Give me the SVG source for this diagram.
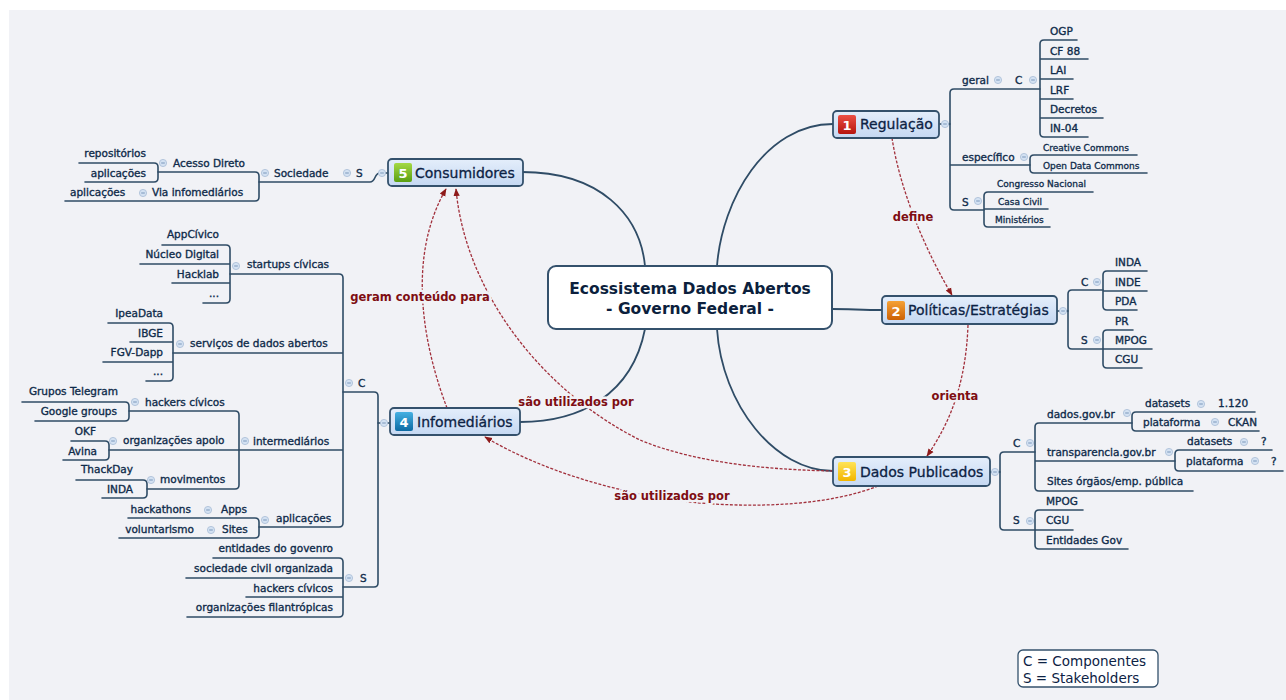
<svg xmlns="http://www.w3.org/2000/svg" width="1286" height="700" viewBox="0 0 1286 700">
<defs>
<style>
.t{font-family:"DejaVu Sans",Verdana,sans-serif;font-size:10.5px;fill:#0f2b4a;stroke:#0f2b4a;stroke-width:0.35}
.s{font-size:9px;stroke-width:0.3}
.e{text-anchor:end}
.ln{fill:none;stroke:#2f4c66;stroke-width:1.6;stroke-linecap:round}
.cx{fill:none;stroke:#2f4c66;stroke-width:1.8}
.rel{fill:none;stroke:#a2303c;stroke-width:1.3;stroke-dasharray:3 1.6}
.rl{font-family:"DejaVu Sans",sans-serif;font-size:11.5px;font-weight:bold;fill:#7e0d12;text-anchor:middle;stroke:#f1f2f6;stroke-width:5;paint-order:stroke;stroke-linejoin:round}
.nd{fill:url(#ng);stroke:#34516c;stroke-width:1.8}
.nt{font-family:"DejaVu Sans",sans-serif;font-size:14px;fill:#0c2244;stroke:#0c2244;stroke-width:0.3}
.num{font-family:"DejaVu Sans",sans-serif;font-size:13px;font-weight:bold;fill:#fff;text-anchor:middle}
.ct{font-family:"DejaVu Sans",sans-serif;font-size:15.5px;font-weight:bold;fill:#0c1f3d;text-anchor:middle}
.lg{font-family:"DejaVu Sans",sans-serif;font-size:13.5px;fill:#0c2244}
</style>
<linearGradient id="ng" x1="0" y1="0" x2="0" y2="1"><stop offset="0" stop-color="#e4eefb"/><stop offset="1" stop-color="#c5d8f2"/></linearGradient>
<linearGradient id="gR" x1="0" y1="0" x2="0" y2="1"><stop offset="0" stop-color="#ec5045"/><stop offset="1" stop-color="#b5150f"/></linearGradient>
<linearGradient id="gO" x1="0" y1="0" x2="0" y2="1"><stop offset="0" stop-color="#f5a236"/><stop offset="1" stop-color="#cc6105"/></linearGradient>
<linearGradient id="gY" x1="0" y1="0" x2="0" y2="1"><stop offset="0" stop-color="#ffe457"/><stop offset="1" stop-color="#f2b500"/></linearGradient>
<linearGradient id="gB" x1="0" y1="0" x2="0" y2="1"><stop offset="0" stop-color="#45b0e2"/><stop offset="1" stop-color="#0c6aa3"/></linearGradient>
<linearGradient id="gG" x1="0" y1="0" x2="0" y2="1"><stop offset="0" stop-color="#a4d945"/><stop offset="1" stop-color="#5a9f12"/></linearGradient>
<g id="cb"><circle r="3.6" fill="#d3e1f2" stroke="#a8bdd6" stroke-width="0.8"/><path d="M-1.8 0H1.8" stroke="#6f8fb3" stroke-width="0.9"/></g>
<marker id="ar" viewBox="0 0 10 10" refX="9" refY="5" markerWidth="6" markerHeight="6" orient="auto"><path d="M0 1 L10 5 L0 9z" fill="#8e1a1a"/></marker>
</defs>

<rect width="1286" height="700" fill="#ffffff"/>
<rect x="9" y="10" width="1277" height="690" fill="#f1f2f6"/>

<g id="connectors">
  <path class="cx" d="M522 172 C600 172 640 215 645 266"/>
  <path class="cx" d="M833 124 C765 124 722 200 717 266"/>
  <path class="cx" d="M832 309 C850 309 862 310 882 310"/>
  <path class="cx" d="M717 329 C722 405 775 471 833 471"/>
  <path class="cx" d="M645 329 C632 395 580 422 520 422"/>

  <path class="ln" d="M940 124 H950"/>
  <path class="ln" d="M1040 89 H954 Q950 89 950 93 V206 Q950 210 954 210 H984 M950 165 H1030"/>
  <path class="ln" d="M1077 40 H1044 Q1040 40 1040 44 V133 Q1040 137 1044 137 H1088 M1040 59 H1088 M1040 79 H1073 M1040 99 H1073 M1040 118 H1103"/>
  <path class="ln" d="M1137 155 H1034 Q1030 155 1030 159 V169 Q1030 173 1034 173 H1147"/>
  <path class="ln" d="M1093 192 H988 Q984 192 984 196 V223 Q984 227 988 227 H1050 M984 209 H1048"/>

  <path class="ln" d="M1057 311 H1068"/>
  <path class="ln" d="M1103 290 H1072 Q1068 290 1068 294 V345 Q1068 349 1072 349 H1103"/>
  <path class="ln" d="M1147 271 H1107 Q1103 271 1103 275 V306 Q1103 310 1107 310 H1137 M1103 291 H1147"/>
  <path class="ln" d="M1133 330 H1107 Q1103 330 1103 334 V364 Q1103 368 1107 368 H1142 M1103 349 H1152"/>

  <path class="ln" d="M990 472 H1000"/>
  <path class="ln" d="M1035 452 H1004 Q1000 452 1000 456 V526 Q1000 530 1004 530 H1035"/>
  <path class="ln" d="M1132 423 H1039 Q1035 423 1035 427 V487 Q1035 491 1039 491 H1193 M1035 461 H1175"/>
  <path class="ln" d="M1255 412 H1136 Q1132 412 1132 416 V427 Q1132 431 1136 431 H1259"/>
  <path class="ln" d="M1272 450 H1179 Q1175 450 1175 454 V467 Q1175 471 1179 471 H1283"/>
  <path class="ln" d="M1083 510 H1039 Q1035 510 1035 514 V545 Q1035 549 1039 549 H1128 M1035 530 H1073"/>

  <path class="ln" d="M388 173 H380 C374 173 376 182 370 182 H259"/>
  <path class="ln" d="M158 172 H255 Q259 172 259 176 V197 Q259 201 255 201 H65"/>
  <path class="ln" d="M79 163 H154 Q158 163 158 167 V178 Q158 182 154 182 H85"/>

  <path class="ln" d="M390 423 H378"/>
  <path class="ln" d="M343 392 H374 Q378 392 378 396 V583 Q378 587 374 587 H343"/>
  <path class="ln" d="M230 274 H339 Q343 274 343 278 V523 Q343 527 339 527 H259 M343 353 H173 M343 450 H239"/>
  <path class="ln" d="M162 245 H226 Q230 245 230 249 V299 Q230 303 226 303 H203 M230 264 H140 M230 283 H172"/>
  <path class="ln" d="M108 323 H169 Q173 323 173 327 V377 Q173 381 169 381 H146 M173 342 H130 M173 362 H103"/>
  <path class="ln" d="M129 411 H235 Q239 411 239 415 V485 Q239 489 235 489 H147 M239 450 H109"/>
  <path class="ln" d="M22 402 H125 Q129 402 129 406 V417 Q129 421 125 421 H35"/>
  <path class="ln" d="M71 441 H105 Q109 441 109 445 V456 Q109 460 105 460 H63"/>
  <path class="ln" d="M76 480 H143 Q147 480 147 484 V494 Q147 498 143 498 H102"/>
  <path class="ln" d="M128 518 H255 Q259 518 259 522 V534 Q259 538 255 538 H119"/>
  <path class="ln" d="M213 558 H339 Q343 558 343 562 V613 Q343 617 339 617 H187 M343 578 H186 M343 597 H246"/>

  <path class="rel" d="M892 138 C900 190 925 250 952 295" marker-end="url(#ar)"/>
  <path class="rel" d="M968 325 C966 380 952 420 927 456" marker-end="url(#ar)"/>
  <path class="rel" d="M447 408 C425 350 405 260 446 189" marker-end="url(#ar)"/>
  <path class="rel" d="M833 471 C780 470 700 465 640 440 C540 390 465 290 456 189" marker-end="url(#ar)"/>
  <path class="rel" d="M878 486 C830 505 760 508 700 503 C620 495 540 470 485 437" marker-end="url(#ar)"/>
  <text class="rl" x="913" y="221">define</text>
  <text class="rl" x="955" y="400">orienta</text>
  <text class="rl" x="420" y="301">geram conteúdo para</text>
  <text class="rl" x="576" y="406">são utilizados por</text>
  <text class="rl" x="672" y="500">são utilizados por</text>
</g>

<g id="central">
  <rect x="548" y="266" width="284" height="63" rx="8" fill="#ffffff" stroke="#34516c" stroke-width="2"/>
  <text class="ct" x="690" y="294">Ecossistema Dados Abertos</text>
  <text class="ct" x="690" y="314">- Governo Federal -</text>
</g>

<g id="regulacao">
  <rect class="nd" x="833" y="111" width="106" height="27" rx="4"/>
  <rect x="838" y="115" width="18" height="19" rx="2" fill="url(#gR)"/>
  <text class="num" x="847" y="129.5">1</text>
  <text class="nt" x="860" y="129">Regulação</text>
  <use href="#cb" x="945" y="124"/>
  <text class="t" x="962" y="84">geral</text><use href="#cb" x="998" y="80"/>
  <text class="t" x="1015" y="84">C</text><use href="#cb" x="1033" y="80"/>
  <text class="t" x="1050" y="35">OGP</text>
  <text class="t" x="1050" y="55">CF 88</text>
  <text class="t" x="1050" y="74">LAI</text>
  <text class="t" x="1050" y="94">LRF</text>
  <text class="t" x="1050" y="113">Decretos</text>
  <text class="t" x="1050" y="132">IN-04</text>
  <text class="t" x="962" y="161">específico</text><use href="#cb" x="1024" y="157"/>
  <text class="t s" x="1043" y="151">Creative Commons</text>
  <text class="t s" x="1043" y="169">Open Data Commons</text>
  <text class="t" x="962" y="206">S</text><use href="#cb" x="978" y="201"/>
  <text class="t s" x="997" y="187">Congresso Nacional</text>
  <text class="t s" x="998" y="205">Casa Civil</text>
  <text class="t s" x="995" y="223">Ministérios</text>
</g>

<g id="politicas">
  <rect class="nd" x="882" y="296" width="175" height="28" rx="4"/>
  <rect x="887" y="301" width="18" height="19" rx="2" fill="url(#gO)"/>
  <text class="num" x="896" y="315.5">2</text>
  <text class="nt" x="908" y="315">Políticas/Estratégias</text>
  <use href="#cb" x="1063" y="311"/>
  <text class="t" x="1081" y="286">C</text><use href="#cb" x="1097" y="282"/>
  <text class="t" x="1115" y="266">INDA</text>
  <text class="t" x="1115" y="286">INDE</text>
  <text class="t" x="1115" y="305">PDA</text>
  <text class="t" x="1081" y="344">S</text><use href="#cb" x="1097" y="340"/>
  <text class="t" x="1115" y="325">PR</text>
  <text class="t" x="1115" y="344">MPOG</text>
  <text class="t" x="1115" y="363">CGU</text>
</g>

<g id="dados-publicados">
  <rect class="nd" x="833" y="457" width="157" height="29" rx="4"/>
  <rect x="838" y="462" width="18" height="19" rx="2" fill="url(#gY)"/>
  <text class="num" x="847" y="476.5">3</text>
  <text class="nt" x="860" y="477">Dados Publicados</text>
  <use href="#cb" x="995" y="472"/>
  <text class="t" x="1013" y="447">C</text><use href="#cb" x="1030" y="443"/>
  <text class="t" x="1047" y="418">dados.gov.br</text><use href="#cb" x="1127" y="413"/>
  <text class="t" x="1145" y="407">datasets</text><use href="#cb" x="1201" y="404"/>
  <text class="t" x="1218" y="407">1.120</text>
  <text class="t" x="1143" y="426">plataforma</text><use href="#cb" x="1215" y="422"/>
  <text class="t" x="1228" y="426">CKAN</text>
  <text class="t" x="1047" y="456">transparencia.gov.br</text><use href="#cb" x="1169" y="452"/>
  <text class="t" x="1187" y="445">datasets</text><use href="#cb" x="1244" y="442"/>
  <text class="t" x="1261" y="445">?</text>
  <text class="t" x="1186" y="465">plataforma</text><use href="#cb" x="1255" y="461"/>
  <text class="t" x="1271" y="465">?</text>
  <text class="t" x="1047" y="485">Sites órgãos/emp. pública</text>
  <text class="t" x="1013" y="524">S</text><use href="#cb" x="1030" y="521"/>
  <text class="t" x="1046" y="505">MPOG</text>
  <text class="t" x="1046" y="524">CGU</text>
  <text class="t" x="1046" y="544">Entidades Gov</text>
</g>

<g id="consumidores">
  <rect class="nd" x="388" y="159" width="135" height="27" rx="4"/>
  <rect x="394" y="163" width="18" height="19" rx="2" fill="url(#gG)"/>
  <text class="num" x="403" y="177.5">5</text>
  <text class="nt" x="415" y="178">Consumidores</text>
  <use href="#cb" x="382" y="173"/>
  <text class="t" x="356" y="177">S</text><use href="#cb" x="347" y="173"/>
  <text class="t" x="274" y="177">Sociedade</text><use href="#cb" x="265" y="173"/>
  <text class="t" x="173" y="167">Acesso Direto</text><use href="#cb" x="163" y="163"/>
  <text class="t e" x="146" y="157">repositórios</text>
  <text class="t e" x="146" y="177">aplicações</text>
  <text class="t" x="152" y="196">Via infomediários</text><use href="#cb" x="143" y="193"/>
  <text class="t" x="70" y="196">aplicações</text>
</g>

<g id="infomediarios">
  <rect class="nd" x="390" y="408" width="130" height="27" rx="4"/>
  <rect x="395" y="412" width="18" height="19" rx="2" fill="url(#gB)"/>
  <text class="num" x="404" y="426.5">4</text>
  <text class="nt" x="417" y="427">Infomediários</text>
  <use href="#cb" x="384" y="423"/>
  <text class="t" x="358" y="387">C</text><use href="#cb" x="349" y="383"/>
  <text class="t" x="247" y="268">startups cívicas</text><use href="#cb" x="236" y="266"/>
  <text class="t e" x="219" y="238">AppCívico</text>
  <text class="t e" x="219" y="258">Núcleo Digital</text>
  <text class="t e" x="219" y="278">Hacklab</text>
  <text class="t e" x="219" y="297">...</text>
  <text class="t" x="190" y="347">serviços de dados abertos</text><use href="#cb" x="180" y="344"/>
  <text class="t e" x="163" y="317">IpeaData</text>
  <text class="t e" x="163" y="337">IBGE</text>
  <text class="t e" x="163" y="356">FGV-Dapp</text>
  <text class="t e" x="163" y="375">...</text>
  <text class="t" x="253" y="445">intermediários</text><use href="#cb" x="245" y="441"/>
  <text class="t" x="145" y="406">hackers cívicos</text><use href="#cb" x="135" y="402"/>
  <text class="t e" x="118" y="395">Grupos Telegram</text>
  <text class="t e" x="117" y="415">Google groups</text>
  <text class="t" x="123" y="444">organizações apoio</text><use href="#cb" x="113" y="441"/>
  <text class="t e" x="96" y="435">OKF</text>
  <text class="t e" x="97" y="455">Avina</text>
  <text class="t" x="160" y="483">movimentos</text><use href="#cb" x="151" y="480"/>
  <text class="t e" x="133" y="473">ThackDay</text>
  <text class="t e" x="133" y="493">INDA</text>
  <text class="t" x="276" y="522">aplicações</text><use href="#cb" x="265" y="520"/>
  <text class="t" x="221" y="513">Apps</text><use href="#cb" x="208" y="510"/>
  <text class="t e" x="191" y="513">hackathons</text>
  <text class="t" x="222" y="533">Sites</text><use href="#cb" x="211" y="530"/>
  <text class="t e" x="194" y="533">voluntarismo</text>
  <text class="t" x="360" y="582">S</text><use href="#cb" x="349" y="578"/>
  <text class="t e" x="333" y="552">entidades do govenro</text>
  <text class="t e" x="333" y="572">sociedade civil organizada</text>
  <text class="t e" x="333" y="592">hackers cívicos</text>
  <text class="t e" x="333" y="611">organizações filantrópicas</text>
</g>

<g id="legend">
  <rect x="1018" y="650" width="140" height="37" rx="5" fill="#ffffff" stroke="#34516c" stroke-width="1.3"/>
  <text class="lg" x="1023" y="666">C = Componentes</text>
  <text class="lg" x="1023" y="683">S = Stakeholders</text>
</g>
</svg>
